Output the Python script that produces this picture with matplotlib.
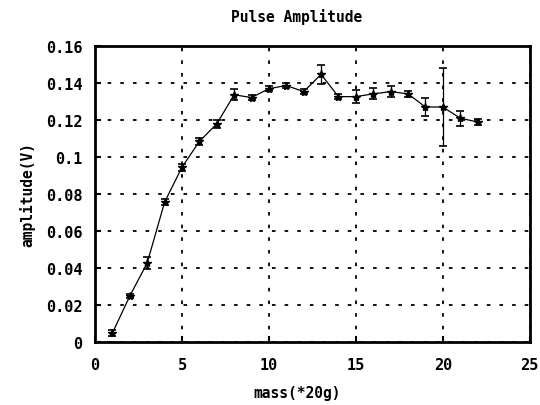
import numpy as np
import matplotlib
matplotlib.use("Agg")
import matplotlib.pyplot as plt

# mass in units of 20 g
mass = [1, 2, 3, 4, 5, 6, 7, 8, 9, 10, 11, 12, 13, 14, 15, 16, 17, 18, 19, 20, 21, 22]
amplitude = [0.0049, 0.0249, 0.0427, 0.0755, 0.0944, 0.1083, 0.1178, 0.1335, 0.1320,
             0.1368, 0.1385, 0.1352, 0.1445, 0.1325, 0.1325, 0.1340, 0.1352, 0.1340,
             0.1269, 0.1269, 0.1209, 0.1188]
amp_err = [0.0015, 0.0012, 0.0030, 0.0015, 0.0018, 0.0018, 0.0020, 0.0030, 0.0015,
           0.0015, 0.0012, 0.0012, 0.0050, 0.0015, 0.0035, 0.0030, 0.0030, 0.0018,
           0.0050, 0.0210, 0.0040, 0.0015]

x_ticks = [0, 5, 10, 15, 20, 25]
y_ticks = [0, 0.02, 0.04, 0.06, 0.08, 0.1, 0.12, 0.14, 0.16]
y_tick_labels = ["0", "0.02", "0.04", "0.06", "0.08", "0.1", "0.12", "0.14", "0.16"]

plt.rcParams["font.family"] = "DejaVu Sans Mono"
plt.rcParams["font.weight"] = "bold"

fig = plt.figure(figsize=(5.4, 4.06), dpi=100)
ax = fig.add_axes([0.176, 0.155, 0.805, 0.73])

ax.errorbar(mass, amplitude, yerr=amp_err, color="black", linewidth=0.9,
            elinewidth=0.9, capsize=3, capthick=1.2,
            marker="*", markersize=6)

ax.set_xlim(0, 25)
ax.set_ylim(0, 0.16)
ax.set_xticks(x_ticks)
ax.set_yticks(y_ticks)
ax.set_yticklabels(y_tick_labels)
ax.tick_params(direction="in", length=4, width=1.5, labelsize=11, pad=9)
ax.tick_params(axis="x", pad=11)
for lab in ax.get_xticklabels() + ax.get_yticklabels():
    lab.set_fontweight("bold")

ax.grid(True, color="black", linestyle=(0, (2, 5)), linewidth=1.3)
for s in ax.spines.values():
    s.set_linewidth(2)

ax.set_title("Pulse Amplitude", fontsize=10.5, fontweight="bold", pad=18, x=0.464)
ax.set_xlabel("mass(*20g)", fontsize=10.5, fontweight="bold", labelpad=9, x=0.464)
ax.set_ylabel("amplitude(V)", fontsize=10.5, fontweight="bold", labelpad=8)

fig.savefig("out.png", dpi=100)
